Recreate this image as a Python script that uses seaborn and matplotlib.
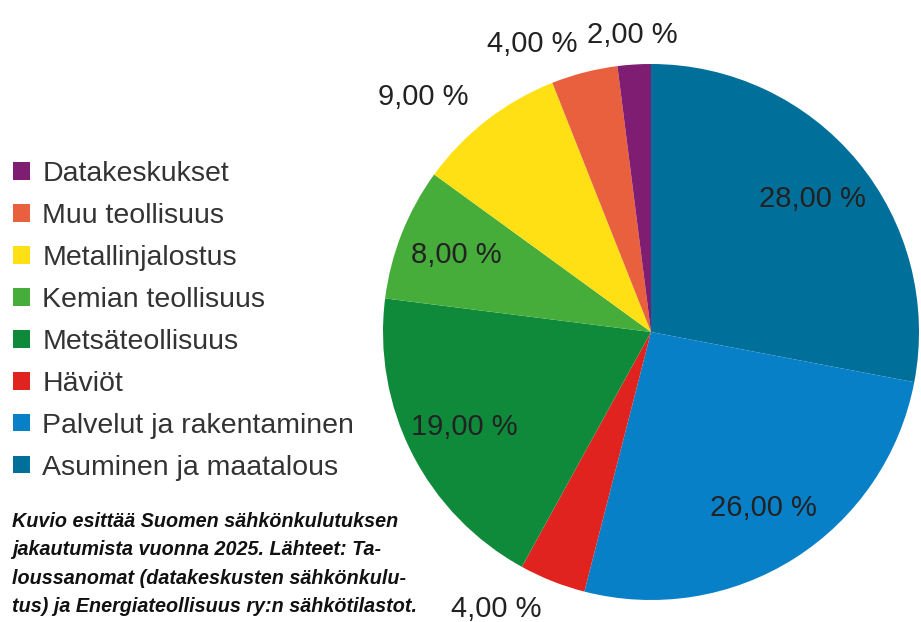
import numpy as np
import seaborn as sns
import matplotlib.pyplot as plt
from matplotlib.patches import Patch
from matplotlib import font_manager

sns.set_theme(style="white")
plt.rcParams['font.family'] = ['Liberation Sans', 'DejaVu Sans']

# data, clockwise from 12 o'clock
categories = ["Asuminen ja maatalous", "Palvelut ja rakentaminen", "Häviöt",
              "Metsäteollisuus", "Kemian teollisuus", "Metallinjalostus",
              "Muu teollisuus", "Datakeskukset"]
shares = [28, 26, 4, 19, 8, 9, 4, 2]
colors = ["#00709b", "#0880c8", "#e0231f", "#0f8a3a", "#46ad3b",
          "#ffe014", "#e9603f", "#7e1d72"]
label_outside = [False, False, True, False, False, True, True, True]

caption = ("Kuvio esittää Suomen sähkönkulutuksen\n"
           "jakautumista vuonna 2025. Lähteet: Ta-\n"
           "loussanomat (datakeskusten sähkönkulu-\n"
           "tus) ja Energiateollisuus ry:n sähkötilastot.")

fig = plt.figure(figsize=(9.21, 6.22), dpi=100)
ax = fig.add_axes([(651 - 268) / 921, 22 / 622, 536 / 921, 536 / 622])

wedges, _ = ax.pie(shares, colors=colors, startangle=90, counterclock=False,
                   wedgeprops=dict(linewidth=0))
ax.set_aspect("equal")
ax.set_xlim(-1, 1)
ax.set_ylim(-1, 1)

# percentage labels
total = sum(shares)
start = 90.0
for val, out in zip(shares, label_outside):
    span = 360.0 * val / total
    mid = np.deg2rad(start - span / 2)
    c, s = np.cos(mid), np.sin(mid)
    if out:
        r = 1.11
        ha = "right" if c < -0.1 else ("left" if c > 0.1 else "center")
    else:
        r = 0.78
        ha = "center"
    ax.text(r * c, r * s, f"{val:.2f} %".replace(".", ","),
            ha=ha, va="center", fontsize=21, color="#222222")
    start -= span

# legend, reversed order
handles = [Patch(facecolor=c, edgecolor="none") for c in colors][::-1]
fig.legend(handles, categories[::-1], loc="upper left",
           bbox_to_anchor=(13 / 921, 1 - 161 / 622), frameon=False,
           borderpad=0, borderaxespad=0,
           fontsize=20.5, handlelength=0.58, handleheight=0.58,
           handletextpad=0.45, labelspacing=0.56, labelcolor="#333333")

# caption: prefer a narrow face if one is installed
try:
    font_manager.findfont(font_manager.FontProperties(family="Liberation Sans Narrow"),
                          fallback_to_default=False)
    cap_family, cap_size = ["Liberation Sans Narrow", "DejaVu Sans"], 17
except ValueError:
    cap_family, cap_size = ["Liberation Sans", "DejaVu Sans"], 14.2

fig.text(12 / 921, 1 - 512 / 622, caption, ha="left", va="top",
         fontsize=cap_size, fontstyle="italic", fontweight="bold",
         family=cap_family, linespacing=1.62, color="#111111")

fig.savefig("out.png", dpi=100)
